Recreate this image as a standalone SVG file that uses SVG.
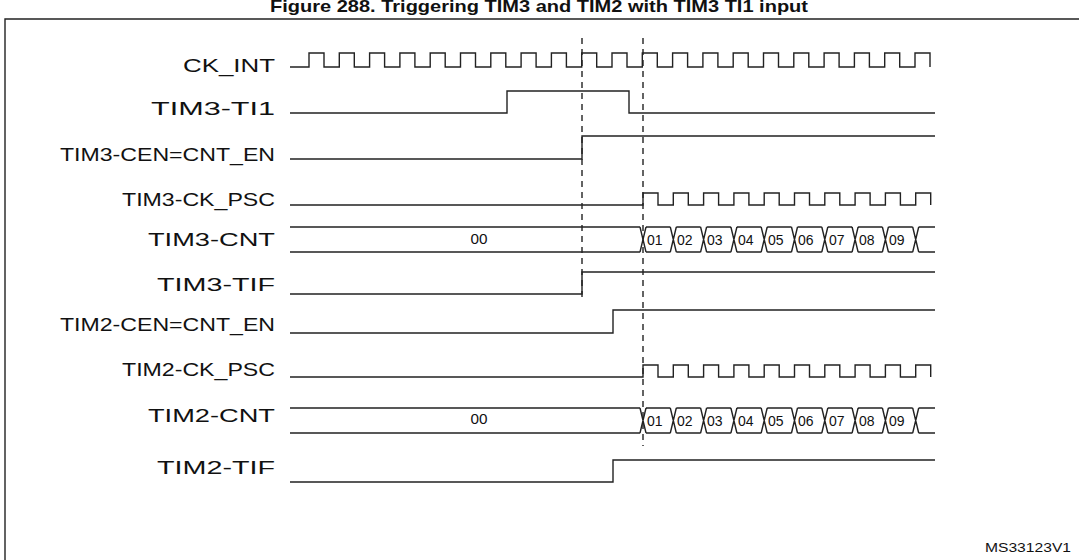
<svg xmlns="http://www.w3.org/2000/svg" xmlns:xlink="http://www.w3.org/1999/xlink" width="1079" height="560" viewBox="0 0 1079 560">
<style>
.w{fill:none;stroke:#222;stroke-width:1.4}
.d{fill:none;stroke:#222;stroke-width:1.4;stroke-dasharray:6,5}
.l{font-family:"Liberation Sans",Arial,sans-serif;font-size:18px;fill:#111;text-anchor:end}
.v{font-family:"Liberation Sans",Arial,sans-serif;font-size:14px;fill:#111}
.t{font-family:"Liberation Sans",Arial,sans-serif;font-size:17px;font-weight:bold;fill:#111;text-anchor:middle}
</style>
<defs>
<path id="psc" class="w" d="M290,205 H643 v-12h15v12h15.3 v-12h15v12h15.3 v-12h15v12h15.3 v-12h15v12h15.3 v-12h15v12h15.3 v-12h15v12h15.3 v-12h15v12h15.3 v-12h15v12h15.3 v-12h15v12h15.3 v-12h15v12"/>
<path id="bus" class="w" d="M290,227 H640 M290,252 H640
M640,227 L646,252 M640,252 L646,227
M646,227 H670.3 M646,252 H670.3 M670.3,227 L676.3,252 M670.3,252 L676.3,227
M676.3,227 H700.6 M676.3,252 H700.6 M700.6,227 L706.6,252 M700.6,252 L706.6,227
M706.6,227 H730.9 M706.6,252 H730.9 M730.9,227 L736.9,252 M730.9,252 L736.9,227
M736.9,227 H761.2 M736.9,252 H761.2 M761.2,227 L767.2,252 M761.2,252 L767.2,227
M767.2,227 H791.5 M767.2,252 H791.5 M791.5,227 L797.5,252 M791.5,252 L797.5,227
M797.5,227 H821.8 M797.5,252 H821.8 M821.8,227 L827.8,252 M821.8,252 L827.8,227
M827.8,227 H852.1 M827.8,252 H852.1 M852.1,227 L858.1,252 M852.1,252 L858.1,227
M858.1,227 H882.4 M858.1,252 H882.4 M882.4,227 L888.4,252 M882.4,252 L888.4,227
M888.4,227 H912.7 M888.4,252 H912.7 M912.7,227 L918.7,252 M912.7,252 L918.7,227
M918.7,227 H935 M918.7,252 H935"/>
</defs>
<text class="t" x="539" y="12" textLength="538" lengthAdjust="spacingAndGlyphs">Figure 288. Triggering TIM3 and TIM2 with TIM3 TI1 input</text>
<path class="w" d="M5,600 V19 H1090"/>
<g id="labels">
<text class="l" x="275" y="72" textLength="92" lengthAdjust="spacingAndGlyphs">CK_INT</text>
<text class="l" x="275" y="115" textLength="124" lengthAdjust="spacingAndGlyphs">TIM3-TI1</text>
<text class="l" x="275" y="161" textLength="215" lengthAdjust="spacingAndGlyphs">TIM3-CEN=CNT_EN</text>
<text class="l" x="275" y="206" textLength="153" lengthAdjust="spacingAndGlyphs">TIM3-CK_PSC</text>
<text class="l" x="275" y="246" textLength="127" lengthAdjust="spacingAndGlyphs">TIM3-CNT</text>
<text class="l" x="275" y="291" textLength="118" lengthAdjust="spacingAndGlyphs">TIM3-TIF</text>
<text class="l" x="275" y="331" textLength="215" lengthAdjust="spacingAndGlyphs">TIM2-CEN=CNT_EN</text>
<text class="l" x="275" y="376" textLength="153" lengthAdjust="spacingAndGlyphs">TIM2-CK_PSC</text>
<text class="l" x="275" y="422" textLength="127" lengthAdjust="spacingAndGlyphs">TIM2-CNT</text>
<text class="l" x="275" y="474" textLength="118" lengthAdjust="spacingAndGlyphs">TIM2-TIF</text>
</g>
<g id="ck_int"><path class="w" d="M290,67 H309 v-14h15v14h15.3 v-14h15v14h15.3 v-14h15v14h15.3 v-14h15v14h15.3 v-14h15v14h15.3 v-14h15v14h15.3 v-14h15v14h15.3 v-14h15v14h15.3 v-14h15v14h15.3 v-14h15v14h15.3 v-14h15v14h15.3 v-14h15v14h15.3 v-14h15v14h15.3 v-14h15v14h15.3 v-14h15v14h15.3 v-14h15v14h15.3 v-14h15v14h15.3 v-14h15v14h15.3 v-14h15v14h15.3 v-14h15v14h15.3 v-14h15v14"/></g>
<g id="tim3_ti1"><path class="w" d="M290,113 H507 V91 H629 V113 H935"/></g>
<g id="tim3_cen"><path class="w" d="M290,159 H582 V136 H935"/></g>
<g id="tim3_ck_psc"><use xlink:href="#psc"/></g>
<g id="tim3_cnt"><use xlink:href="#bus"/>
<text class="v" x="479" y="244" text-anchor="middle" textLength="17" lengthAdjust="spacingAndGlyphs">00</text>
<g class="v"><text x="647" y="245">01</text><text x="677" y="245">02</text><text x="707" y="245">03</text><text x="738" y="245">04</text><text x="768" y="245">05</text><text x="798" y="245">06</text><text x="829" y="245">07</text><text x="859" y="245">08</text><text x="889" y="245">09</text></g></g>
<g id="tim3_tif"><path class="w" d="M290,294 H582 V272 H935"/></g>
<g id="tim2_cen"><path class="w" d="M290,333 H613 V310 H935"/></g>
<g id="tim2_ck_psc"><use xlink:href="#psc" transform="translate(0,172)"/></g>
<g id="tim2_cnt"><use xlink:href="#bus" transform="translate(0,181)"/>
<text class="v" x="479" y="424" text-anchor="middle" textLength="17" lengthAdjust="spacingAndGlyphs">00</text>
<g class="v"><text x="647" y="426">01</text><text x="677" y="426">02</text><text x="707" y="426">03</text><text x="738" y="426">04</text><text x="768" y="426">05</text><text x="798" y="426">06</text><text x="829" y="426">07</text><text x="859" y="426">08</text><text x="889" y="426">09</text></g></g>
<g id="tim2_tif"><path class="w" d="M290,482 H613 V460 H935"/></g>
<g id="connectors">
<path class="d" d="M582,38 V302"/>
<path class="d" d="M643,38 V446"/>
</g>
<text x="1071" y="552" textLength="86" lengthAdjust="spacingAndGlyphs" style="font-family:'Liberation Sans',Arial,sans-serif;font-size:13px;fill:#111;text-anchor:end">MS33123V1</text>
</svg>
